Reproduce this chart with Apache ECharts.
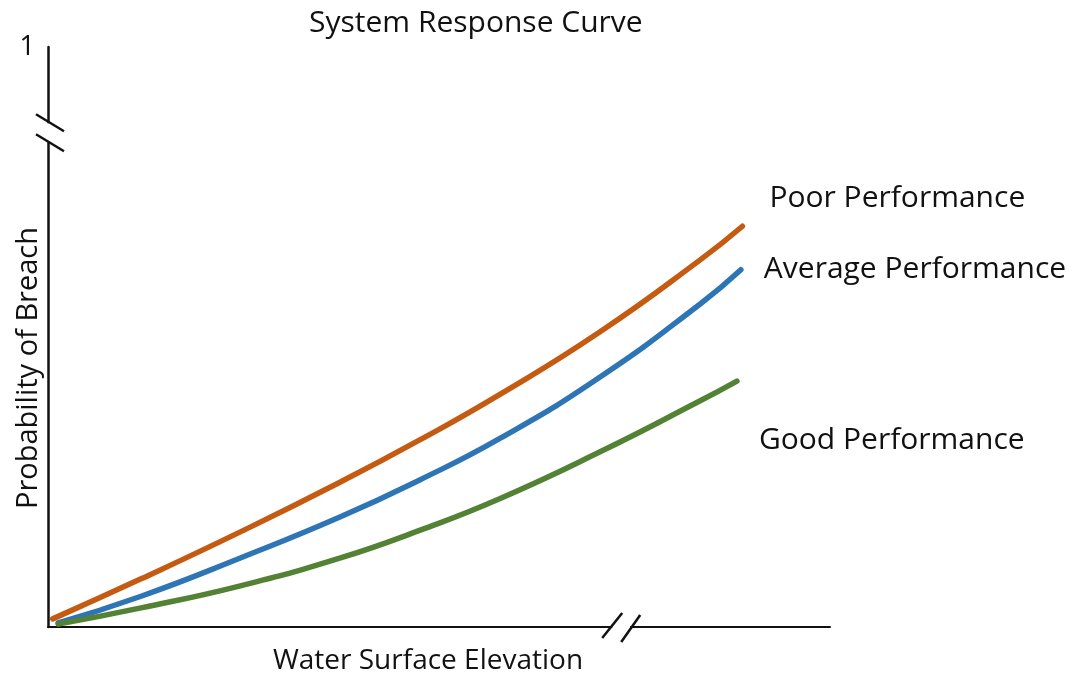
<!DOCTYPE html>
<html>
<head>
<meta charset="utf-8">
<script src="https://cdn.jsdelivr.net/npm/echarts@6/dist/echarts.min.js"></script>
<style>html,body{margin:0;padding:0;background:#fff}#c{width:1073px;height:677px}</style>
</head>
<body>
<div id="c"></div>
<script>
// Water surface elevation (relative, 0-100 scale) and probability of breach
const poorX   = [0.6, 11.9, 24.6, 37.4, 47.6, 57.9, 70.6, 83.4, 88.8];
const poorY   = [0.014, 0.083, 0.164, 0.250, 0.323, 0.402, 0.509, 0.633, 0.691];
const avgX    = [1.3, 11.9, 24.6, 37.4, 47.6, 57.9, 70.6, 83.4, 88.6];
const avgY    = [0.007, 0.053, 0.119, 0.190, 0.254, 0.326, 0.431, 0.557, 0.616];
const goodX   = [1.3, 11.9, 24.6, 37.4, 47.6, 57.9, 70.6, 83.4, 88.1];
const goodY   = [0.005, 0.033, 0.071, 0.119, 0.167, 0.222, 0.302, 0.390, 0.424];
const seriesNames = ['Poor Performance', 'Average Performance', 'Good Performance'];
const yTickLabels = ['1'];
const xBreakAt = 73.3;
const yBreakAt = 0.853;

const FONT = 'Open Sans';
const pair = (xs, ys) => xs.map((x, i) => [x, ys[i]]);

const chart = echarts.init(document.getElementById('c'));
const mk = (name, xs, ys, color, off) => ({
  name, type: 'line', smooth: true, symbol: 'none',
  data: pair(xs, ys),
  lineStyle: { color, width: 5.5, cap: 'round' },
  itemStyle: { color },
  endLabel: { show: true, formatter: name, color: '#111', fontFamily: FONT, fontSize: 30, offset: off, distance: 5 }
});

chart.setOption({
  animation: false,
  title: { text: 'System Response Curve', left: 304, top: 3,
    textStyle: { fontFamily: FONT, fontSize: 30, fontWeight: 'normal', color: '#111' } },
  grid: { left: 48, right: 243, top: 47, bottom: 50, containLabel: false, outerBoundsMode: 'none' },
  xAxis: { type: 'value', min: 0, max: 100,
    name: 'Water Surface Elevation', nameLocation: 'middle', nameGap: 20,
    nameTextStyle: { fontFamily: FONT, fontSize: 28, color: '#111', padding: [0, 22, 0, 0] },
    axisLine: { lineStyle: { color: '#111', width: 2 } },
    axisTick: { show: false }, axisLabel: { show: false }, splitLine: { show: false } },
  yAxis: { type: 'value', min: 0, max: 1, interval: 1,
    axisLine: { show: true, lineStyle: { color: '#111', width: 2.5 } },
    axisTick: { show: false }, splitLine: { show: false },
    axisLabel: { fontFamily: FONT, fontSize: 27, color: '#111', margin: 13,
      formatter: v => v === 1 ? yTickLabels[0] : '' } },
  series: [
    mk(seriesNames[0], poorX, poorY, '#C55A11', [22, -28]),
    mk(seriesNames[1], avgX, avgY, '#2E75B6', [18, 0]),
    mk(seriesNames[2], goodX, goodY, '#548235', [17, 59])
  ]
});

const [yx, yy] = chart.convertToPixel({ gridIndex: 0 }, [0, yBreakAt]);
const [bx, by] = chart.convertToPixel({ gridIndex: 0 }, [xBreakAt, 0]);
const lineSty = { stroke: '#111', lineWidth: 2.5 };
chart.setOption({
  graphic: [
    { type: 'rect', shape: { x: yx - 6, y: yy - 9, width: 12, height: 18 }, style: { fill: '#fff' }, z: 100 },
    { type: 'line', shape: { x1: yx - 12, y1: yy - 18, x2: yx + 16, y2: yy - 1 }, style: lineSty, z: 101 },
    { type: 'line', shape: { x1: yx - 12, y1: yy + 2, x2: yx + 16, y2: yy + 19 }, style: lineSty, z: 101 },
    { type: 'rect', shape: { x: bx - 9, y: by - 6, width: 18, height: 12 }, style: { fill: '#fff' }, z: 100 },
    { type: 'line', shape: { x1: bx - 19, y1: by + 11, x2: bx + 1, y2: by - 14 }, style: lineSty, z: 101 },
    { type: 'line', shape: { x1: bx, y1: by + 15, x2: bx + 19, y2: by - 12 }, style: lineSty, z: 101 },
    { type: 'text', x: 29, y: 368, rotation: Math.PI / 2,
      style: { text: 'Probability of Breach', fontFamily: FONT, fontSize: 29, fill: '#111',
        align: 'center', verticalAlign: 'middle' }, z: 101 }
  ]
});
</script>
</body>
</html>
